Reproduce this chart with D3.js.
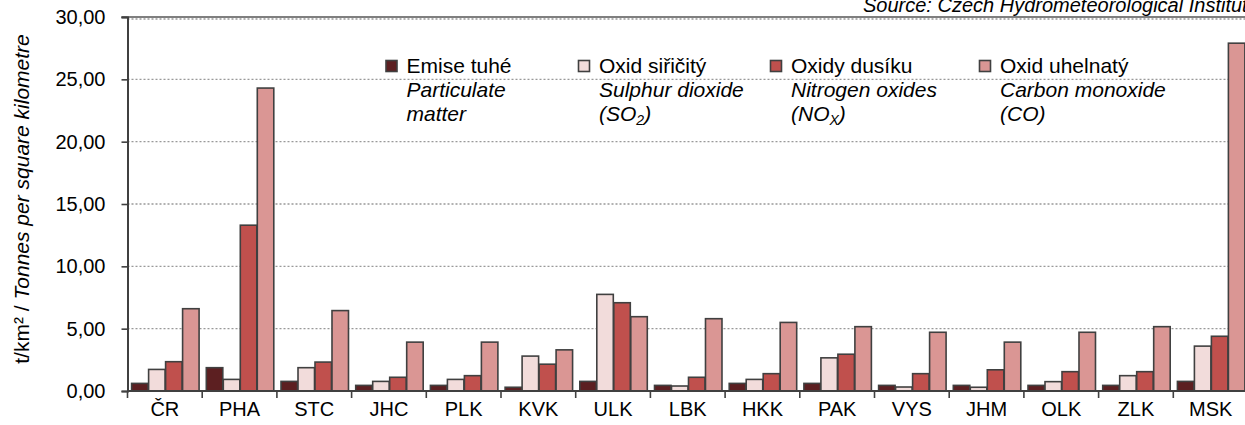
<!DOCTYPE html>
<html>
<head>
<meta charset="utf-8">
<script src="https://cdn.jsdelivr.net/npm/d3@7"></script>
<style>
  html, body { margin: 0; padding: 0; background: #fff; overflow: hidden; }
  svg { display: block; font-family: "Liberation Sans", Arial, sans-serif; }
</style>
</head>
<body>
<svg id="chart" width="1245" height="425"></svg>
<script>
const categories = ["ČR","PHA","STC","JHC","PLK","KVK","ULK","LBK","HKK","PAK","VYS","JHM","OLK","ZLK","MSK"];
const seriesKeys = ["pm","so2","nox","co"];
const particulate = [0.61,1.87,0.77,0.45,0.45,0.30,0.77,0.45,0.61,0.61,0.45,0.45,0.45,0.45,0.77];
const sulphurDioxide = [1.73,0.93,1.87,0.77,0.93,2.80,7.75,0.40,0.93,2.66,0.32,0.30,0.75,1.23,3.60];
const nitrogenOxides = [2.35,13.30,2.32,1.10,1.23,2.15,7.08,1.10,1.39,2.95,1.39,1.70,1.55,1.55,4.39];
const carbonMonoxide = [6.60,24.30,6.45,3.92,3.92,3.30,5.96,5.80,5.50,5.16,4.71,3.92,4.71,5.16,27.90];
const yTicks = [0,5,10,15,20,25,30];
const legendNames = ["Emise tuhé","Oxid siřičitý","Oxidy dusíku","Oxid uhelnatý"];
const legendEn1 = ["Particulate","Sulphur dioxide","Nitrogen oxides","Carbon monoxide"];
const legendEn2 = [["matter",""],["(SO","2"],["(NO","X"],["(CO)",""]];
const colors = ["#5c1f21","#f2dcdb","#c0504d","#da9694"];

(function(){
const seriesValues = [particulate, sulphurDioxide, nitrogenOxides, carbonMonoxide];
const data = categories.map((c,i) => ({cat:c, vals: seriesKeys.map((k,j)=>({key:k, j, v: seriesValues[j][i]}))}));

const svg = d3.select("#chart");
const mLeft = 127.5, mTop = 17, mBottom = 391;
const step = 74.7;
const mRight = mLeft + step*categories.length;

const x = d3.scaleBand().domain(categories).range([mLeft, mRight]).paddingInner(0.09).paddingOuter(0.045);
const xs = d3.scaleBand().domain(seriesKeys).range([0, x.bandwidth()]).padding(0);
const y = d3.scaleLinear().domain([0,30]).range([mBottom, mTop]);
const fmt = v => d3.format(".2f")(v).replace(".", ",");
const axisCol = "#404040";

// gridlines
svg.append("g").selectAll("line").data(yTicks.filter(t=>t>0)).join("line")
  .attr("x1", mLeft).attr("x2", 1245)
  .attr("y1", d=>y(d)+ (d===30?2:0)).attr("y2", d=>y(d)+(d===30?2:0))
  .attr("stroke", "#999").attr("stroke-width", 1.3).attr("stroke-dasharray", "2,2");

// top solid border
svg.append("line").attr("x1", mLeft-6).attr("x2", 1245).attr("y1", y(30)).attr("y2", y(30))
  .attr("stroke", "#555").attr("stroke-width", 1.6);

// bars
const groups = svg.append("g").selectAll("g").data(data).join("g")
  .attr("transform", d=>`translate(${x(d.cat)},0)`);
groups.selectAll("rect").data(d=>d.vals).join("rect")
  .attr("x", d=>xs(d.key)+0.75)
  .attr("width", xs.bandwidth()-0.5)
  .attr("y", d=>y(d.v))
  .attr("height", d=>mBottom - y(d.v))
  .attr("fill", d=>colors[d.j])
  .attr("stroke", axisCol).attr("stroke-width", 1.6);

// y axis
const yAxis = svg.append("g").attr("transform", `translate(${mLeft},0)`)
  .call(d3.axisLeft(y).tickValues(yTicks).tickFormat(fmt).tickSize(6).tickPadding(16));
yAxis.select(".domain").attr("stroke", axisCol).attr("stroke-width", 2);
yAxis.selectAll(".tick line").attr("stroke", axisCol).attr("stroke-width", 1.6);
yAxis.selectAll("text").attr("font-size", 20).attr("fill", "#000")
  .attr("font-family", "Liberation Sans, Arial, sans-serif");

// x axis
const xAxis = svg.append("g").attr("transform", `translate(0,${mBottom})`)
  .call(d3.axisBottom(x).tickSize(0).tickPadding(11));
xAxis.select(".domain").attr("stroke", axisCol).attr("stroke-width", 2).attr("d", `M${mLeft},0H1245`);
xAxis.selectAll("text").attr("font-size", 20).attr("fill", "#000")
  .attr("font-family", "Liberation Sans, Arial, sans-serif");
// boundary ticks
svg.append("g").selectAll("line").data(categories).join("line")
  .attr("x1", d=>x(d) - x.step()*x.paddingInner()/2).attr("x2", d=>x(d) - x.step()*x.paddingInner()/2)
  .attr("y1", mBottom).attr("y2", mBottom+7)
  .attr("stroke", axisCol).attr("stroke-width", 1.6);

// y title
const yt = svg.append("text")
  .attr("transform", `translate(29,199) rotate(-90)`)
  .attr("text-anchor", "middle").attr("font-size", 21).attr("fill", "#000");
yt.append("tspan").text("t/km² / ");
yt.append("tspan").attr("font-style", "italic").text("Tonnes per square kilometre");

// source
svg.append("text").attr("x", 863).attr("y", 12).attr("font-size", 20)
  .attr("font-style", "italic").attr("fill", "#000")
  .text("Source: Czech Hydrometeorological Institute");

// legend
const legendX = [385.5, 578, 770, 979];
const lg = svg.append("g").selectAll("g").data(legendNames).join("g")
  .attr("transform", (d,i)=>`translate(${legendX[i]},0)`);
lg.append("rect").attr("x", 0.5).attr("y", 60.5).attr("width", 11).attr("height", 11)
  .attr("fill", (d,i)=>colors[i]).attr("stroke", axisCol).attr("stroke-width", 1.6);
lg.append("text").attr("x", 21).attr("y", 73).attr("font-size", 21).attr("fill", "#000").text(d=>d);
lg.append("text").attr("x", 21).attr("y", 97).attr("font-size", 21).attr("font-style", "italic")
  .attr("fill", "#000").text((d,i)=>legendEn1[i]);
const l3 = lg.append("text").attr("x", 21).attr("y", 121).attr("font-size", 21).attr("font-style", "italic")
  .attr("fill", "#000");
l3.append("tspan").text((d,i)=>legendEn2[i][0]);
l3.append("tspan").attr("font-size", 14).attr("dy", 4).text((d,i)=>legendEn2[i][1]);
l3.append("tspan").attr("dy", -4).text((d,i)=> (i===1||i===2) ? ")" : "");
})();
</script>
</body>
</html>
